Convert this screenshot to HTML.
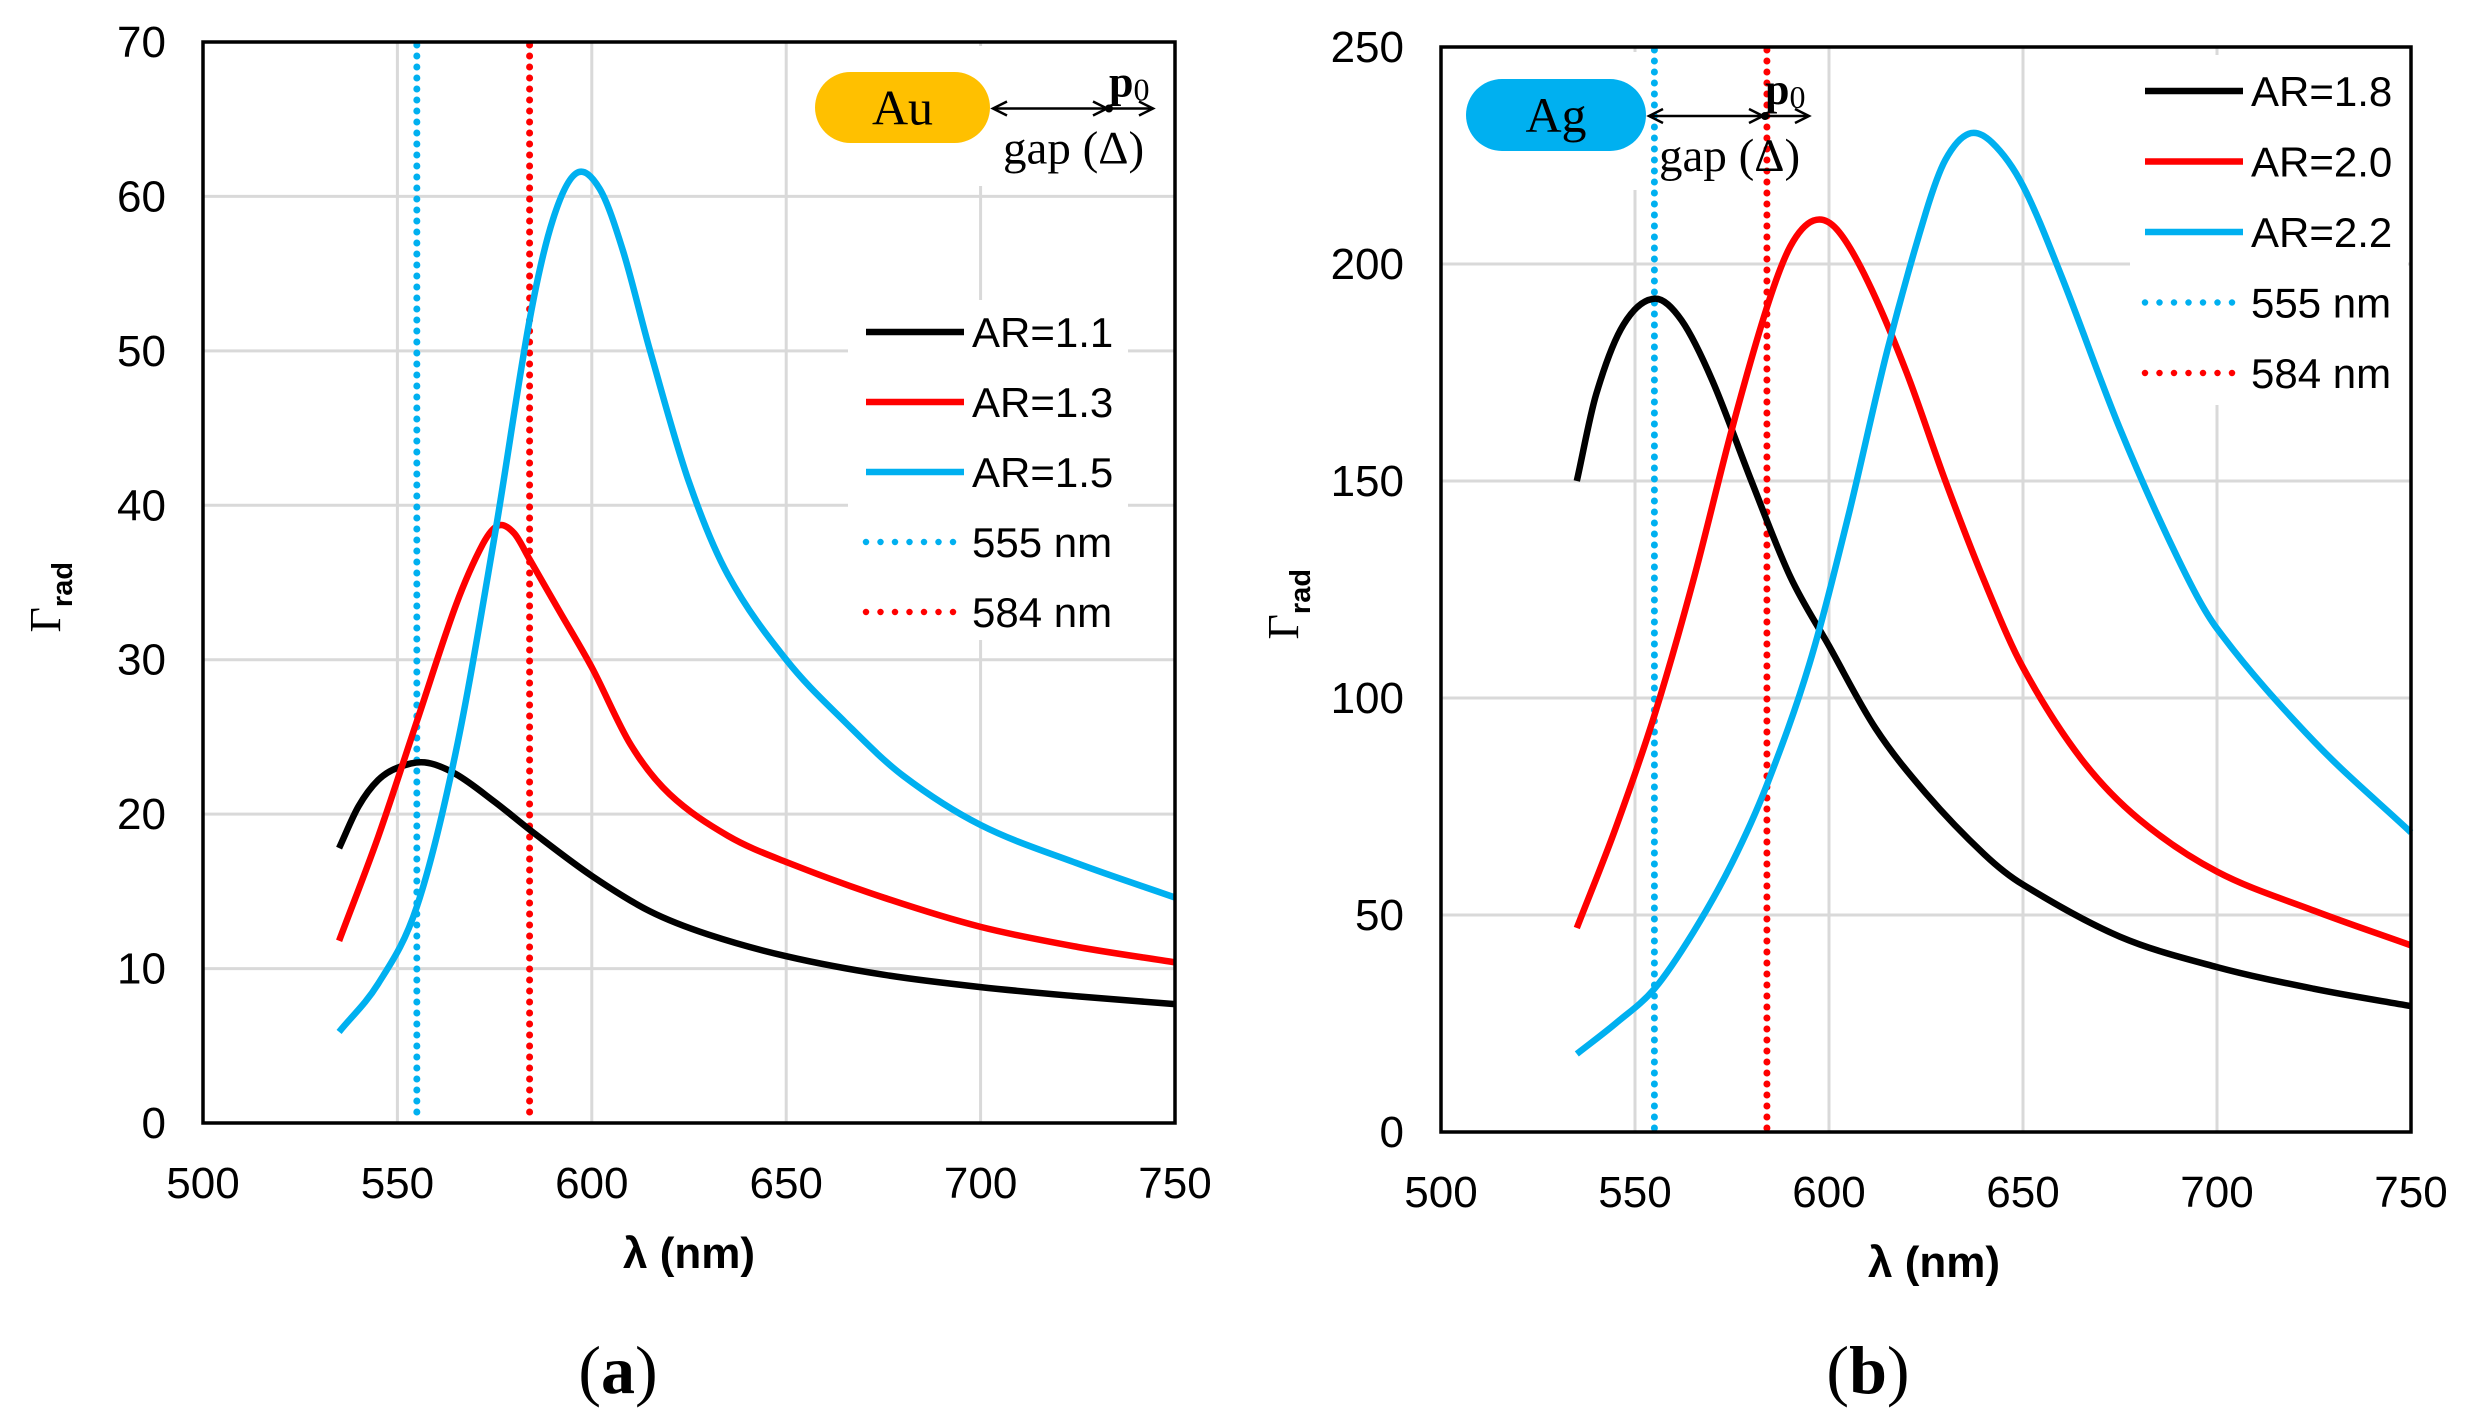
<!DOCTYPE html>
<html><head><meta charset="utf-8"><style>
html,body{margin:0;padding:0;background:#fff;}
svg{display:block;}
text{font-family:"Liberation Sans",Arial,sans-serif;}
.serif{font-family:"Liberation Serif","Times New Roman",serif;}
</style></head><body>
<svg id="fig" width="2479" height="1419" viewBox="0 0 2479 1419" xmlns="http://www.w3.org/2000/svg"></svg>
<script>
// ---- Data (panel a: Au) ----
const xTicks = [500,550,600,650,700,750];
const yTicksA = [0,10,20,30,40,50,60,70];
const yTicksB = [0,50,100,150,200,250];
const lamA11 = [535,540,545,550,557,565,575,585,600,615,630,650,675,700,725,750];
const ar11 = [17.8,20.5,22.2,23.0,23.35,22.6,20.8,18.8,16.0,13.7,12.2,10.8,9.6,8.8,8.2,7.7];
const lamA13 = [535,545,555,565,572,576,580,584,592,600,610,620,635,650,675,700,725,750];
const ar13 = [11.8,18.5,26,33.5,37.5,38.7,38.2,36.5,33,29.5,24.5,21.3,18.6,16.9,14.6,12.7,11.4,10.4];
const lamA15 = [535,545,555,565,575,584,590,596,602,608,615,625,635,650,665,680,700,725,750];
const ar15 = [5.9,9,14,24,38,52,58.5,61.5,60.5,56.5,50,41.5,35.5,30,26,22.5,19.3,16.8,14.6];
// ---- Data (panel b: Ag) ----
const lamB18 = [535,540,547,555,562,570,580,590,600,612,625,640,650,675,700,725,750];
const ar18 = [150,170,186,192,187,173,150,128,112,93,78,64,57,45,38,33,29];
const lamB20 = [535,545,555,565,575,584,590,596,602,610,620,630,640,650,665,680,700,725,750];
const ar20 = [47,70,96,127,162,190,204,210,208,196,175,150,127,107,86,72,60,51,43];
const lamB22 = [535,545,555,565,575,584,595,605,615,625,630,636,642,650,660,675,690,700,725,750];
const ar22 = [18,25,33,46,62,80,108,142,180,212,224,230,228,218,197,162,132,116,90,69];
const markerLines = [555,584];
const legA = ["AR=1.1","AR=1.3","AR=1.5","555 nm","584 nm"];
const legB = ["AR=1.8","AR=2.0","AR=2.2","555 nm","584 nm"];
const COLS = ["#000000","#ff0000","#00b0f0","#00b0f0","#ff0000"];

const NS="http://www.w3.org/2000/svg";
const svg=document.getElementById('fig');
function mk(tag,attrs,parent){const e=document.createElementNS(NS,tag);for(const k in attrs)e.setAttribute(k,attrs[k]);(parent||svg).appendChild(e);return e;}
function smooth(pts){const n=pts.length,t=[];
 for(let i=0;i<n;i++){const a=pts[Math.max(0,i-1)],b=pts[Math.min(n-1,i+1)];t[i]=(b[1]-a[1])/(b[0]-a[0]);}
 let d="M"+pts[0][0].toFixed(1)+","+pts[0][1].toFixed(1);
 for(let i=0;i<n-1;i++){const h=(pts[i+1][0]-pts[i][0])/3;
  d+=" C"+(pts[i][0]+h).toFixed(1)+","+(pts[i][1]+t[i]*h).toFixed(1)+" "+(pts[i+1][0]-h).toFixed(1)+","+(pts[i+1][1]-t[i+1]*h).toFixed(1)+" "+pts[i+1][0].toFixed(1)+","+pts[i+1][1].toFixed(1);}
 return d;}

function panel(cfg){
 const g=mk('g',{});
 
 
 const sx=v=>cfg.L+(v-500)/250*(cfg.R-cfg.L);
 const sy=v=>cfg.B-v/cfg.ymax*(cfg.B-cfg.T);
 xTicks.forEach(t=>{if(t>500&&t<750){const l=mk('line',{x1:sx(t),x2:sx(t),y1:cfg.T,y2:cfg.B,stroke:'#d9d9d9','stroke-width':3},g);}});
 cfg.yt.forEach(t=>{if(t>0&&t<cfg.ymax){const l=mk('line',{x1:cfg.L,x2:cfg.R,y1:sy(t),y2:sy(t),stroke:'#d9d9d9','stroke-width':3},g);}});
 mk('rect',{x:cfg.insetBg[0],y:cfg.insetBg[1],width:cfg.insetBg[2],height:cfg.insetBg[3],fill:'#fff'},g);
 mk('rect',{x:cfg.legBg[0],y:cfg.legBg[1],width:cfg.legBg[2],height:cfg.legBg[3],fill:'#fff'},g);
 markerLines.forEach((m,i)=>{const l=mk('line',{x1:sx(m),x2:sx(m),y1:cfg.T+3,y2:cfg.B,stroke:i?'#ff0000':'#00b0f0','stroke-width':7,'stroke-dasharray':'0 11','stroke-linecap':'round'},g);
  });
 cfg.series.forEach((s,i)=>{const lam=cfg.lams[i];const p=mk('path',{d:smooth(lam.map((x,j)=>[sx(x),sy(s[j])])),fill:'none',stroke:COLS[i],'stroke-width':6.5,'stroke-linejoin':'round'},g);
  });
 const fr=mk('rect',{x:cfg.L,y:cfg.T,width:cfg.R-cfg.L,height:cfg.B-cfg.T,fill:'none',stroke:'#000','stroke-width':3.5},g);
 
 xTicks.forEach(t=>{const e=mk('text',{x:sx(t),y:cfg.B+75,'font-size':44,'text-anchor':'middle',fill:'#000'},g);e.textContent=t;
  });
 cfg.yt.forEach(t=>{const e=mk('text',{x:cfg.L-37,y:sy(t)+15,'font-size':44,'text-anchor':'end',fill:'#000'},g);e.textContent=t;
  });
 const xt=mk('text',{x:(cfg.L+cfg.R)/2+cfg.xtOff,y:cfg.B+145,'font-size':44,'font-weight':'bold','text-anchor':'middle'},g);xt.textContent='λ (nm)';
 
 const yt=mk('text',{transform:`translate(${cfg.L-143},${(cfg.T+cfg.B)/2+50}) rotate(-90)`,'font-size':44,class:'serif'},g);
 yt.innerHTML='Γ<tspan font-family="Liberation Sans" font-weight="bold" font-size="29" dy="12">rad</tspan>';
 
 cfg.leg.forEach((n,i)=>{const y=cfg.legY+i*cfg.legDy;
  const l=mk('line',{x1:cfg.legX,x2:cfg.legX+98,y1:y,y2:y,stroke:COLS[i],'stroke-width':6.5},g);
  if(i>=3){l.setAttribute('stroke-dasharray','0 14.5');l.setAttribute('stroke-linecap','round');}
  const t=mk('text',{x:cfg.legX+106,y:y+15,'font-size':42},g);t.textContent=n;
  });
 const ins=cfg.inset;
 const pill=mk('rect',{x:ins.x,y:ins.y,width:ins.w,height:ins.h,rx:ins.h/2,fill:ins.col},g);
 
 const pt=mk('text',{x:ins.x+ins.w/2,y:ins.y+ins.h/2+17,'font-size':50,'text-anchor':'middle',class:'serif'},g);pt.textContent=ins.label;
 const ay=ins.y+ins.h/2+1, ax1=ins.x+ins.w+3, ax2=ax1+160;
 mk('line',{x1:ax1,x2:ax2,y1:ay,y2:ay,stroke:'#000','stroke-width':2.5},g);
 mk('path',{d:`M${ax1+14},${ay-7} L${ax1},${ay} L${ax1+14},${ay+7}`,fill:'none',stroke:'#000','stroke-width':2.5},g);
 mk('path',{d:`M${ax2-14},${ay-7} L${ax2},${ay} L${ax2-14},${ay+7}`,fill:'none',stroke:'#000','stroke-width':2.5},g);
 mk('path',{d:`M${ax1+100},${ay-7} L${ax1+114},${ay} L${ax1+100},${ay+7}`,fill:'none',stroke:'#000','stroke-width':2.5},g);
 mk('circle',{cx:ax1+116,cy:ay,r:4,fill:'#000'},g);
 const p0=mk('text',{x:ax1+116,y:ay-12,'font-size':44,'font-weight':'bold',class:'serif'},g);
 p0.innerHTML='p<tspan font-weight="normal" font-size="32" dy="4">0</tspan>';
 const gp=mk('text',{x:ax1+10,y:ay+55,'font-size':47,class:'serif'},g);gp.textContent='gap (Δ)';
 
 const pl=mk('text',{x:cfg.plX,y:1393,'font-size':68,'text-anchor':'middle',class:'serif'},g);
 pl.innerHTML='(<tspan font-weight="bold">'+cfg.pl+'</tspan>)';
 
}
panel({name:'chart-au',L:203,R:1175,T:42,B:1123,ymax:70,yt:yTicksA,lams:[lamA11,lamA13,lamA15],series:[ar11,ar13,ar15],leg:legA,
 legX:866,legY:332,legDy:70,legBg:[848,300,280,340],insetBg:[805,46,367,140],xtOff:0,plX:618,pl:'a',
 inset:{x:815,y:72,w:175,h:71,col:'#ffc000',label:'Au'}});
panel({name:'chart-ag',L:1441,R:2411,T:47,B:1132,ymax:250,yt:yTicksB,lams:[lamB18,lamB20,lamB22],series:[ar18,ar20,ar22],leg:legB,
 legX:2145,legY:91,legDy:70.5,legBg:[2130,55,278,350],insetBg:[1455,52,370,138],xtOff:8,plX:1868,pl:'b',
 inset:{x:1466,y:79,w:180,h:72,col:'#00b0f0',label:'Ag'}});
</script>
</body></html>
